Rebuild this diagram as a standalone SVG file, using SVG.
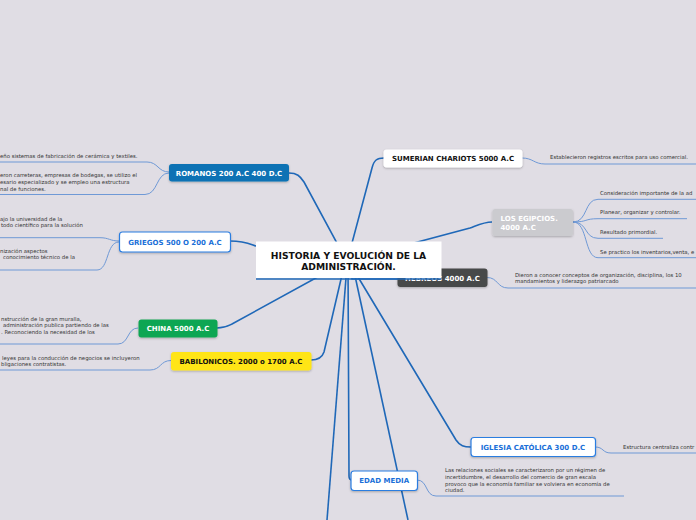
<svg xmlns="http://www.w3.org/2000/svg" width="696" height="520" viewBox="0 0 696 520">
<defs>
<style>
.main{fill:none;stroke:#1f68b8;stroke-width:1.6}
.sub{fill:none;stroke:#6f99d6;stroke-width:1}
.lbl{font-family:"DejaVu Sans",Verdana,sans-serif;font-weight:bold;font-size:7px;text-anchor:middle}
.sm{font-family:"DejaVu Sans",Verdana,sans-serif;font-size:5.35px;fill:#333333}
.wh{fill:#ffffff}
.bl{fill:#1a6fd8}
.bk{fill:#111111}
</style>
<filter id="sh" x="-10%" y="-20%" width="120%" height="150%">
<feDropShadow dx="0" dy="1" stdDeviation="0.8" flood-color="#000" flood-opacity="0.25"/>
</filter>
</defs>
<rect x="0" y="0" width="696" height="520" fill="#e0dde4"/>

<g id="connectors">
<path class="main" d="M289,173 C297,173 300,176 304,182 L345,258"/>
<path class="main" d="M384,158 C377,158 374,160 372,168 L348,258"/>
<path class="main" d="M230,241 C245,241 250,244 256,246 L345,258"/>
<path class="main" d="M492,222 C484,222 478,225 470,228 L350,260"/>
<path class="main" d="M217,328 C225,328 228,326 232,324 L345,262"/>
<path class="main" d="M311,360 C318,360 322,358 324,352 L345,262"/>
<path class="main" d="M348,262 L349,476 C349,479 350,480 352,480"/>
<path class="main" d="M347,265 L327,520"/>
<path class="main" d="M352,262 L408,520"/>
<path class="main" d="M349,262 L456,440 C460,446 464,447 471,447"/>
<path class="main" d="M350,262 L352,279 L398,279"/>

<path class="sub" d="M169,172 C158,172 158,162 147,162 H0"/>
<path class="sub" d="M169,173 C156,173 158,194.5 145,194.5 H0"/>
<path class="sub" d="M119,241 C110,241 109,237.7 100,237.7 H0"/>
<path class="sub" d="M119,242 C106,242 109,270 97,270 H0"/>
<path class="sub" d="M138,328 C127,328 129,344 118,344 H0"/>
<path class="sub" d="M171,360.5 C160,360.5 161,370 150,370 H0"/>
<path class="sub" d="M522,158 C533,158 534,164 545,164 H696"/>
<path class="sub" d="M573,222 C588,222 584,199.3 598,199.3 H696"/>
<path class="sub" d="M573,222 C588,222 584,218.7 598,218.7 H687"/>
<path class="sub" d="M573,222 C588,222 584,238.3 598,238.3 H663"/>
<path class="sub" d="M573,222 C588,222 584,257.7 598,257.7 H696"/>
<path class="sub" d="M487,277.5 C498,277.5 497,288 508,288 H696"/>
<path class="sub" d="M595,447 C604,447 602,453 611,453 H696"/>
<path class="sub" d="M417,480 C428,480 425,496 436,496 H624"/>
</g>

<g id="romanos">
<rect x="169" y="164" width="120" height="17.5" rx="3" fill="#0872b4" filter="url(#sh)"/>
<text class="lbl wh" x="229" y="175.5">ROMANOS 200 A.C 400 D.C</text>
<text class="sm" x="0" y="157.5">eño sistemas de fabricación de cerámica y textiles.</text>
<text class="sm" x="0" y="177">eron carreteras, empresas de bodegas, se utilizo el</text>
<text class="sm" x="0" y="184">esario especializado y se empleo una estructura</text>
<text class="sm" x="0" y="190.7">nal de funciones.</text>
</g>

<g id="griegos">
<rect x="119.5" y="232" width="111" height="20" rx="3" fill="#ffffff" stroke="#2b7de0" stroke-width="1.2" filter="url(#sh)"/>
<text class="lbl bl" x="175" y="244.5">GRIEGOS 500 O 200 A.C</text>
<text class="sm" x="0" y="220.5">ajo la universidad de la</text>
<text class="sm" x="1" y="227">todo científico para la solución</text>
<text class="sm" x="0" y="252.5">nización aspectos</text>
<text class="sm" x="3" y="259">conocimiento técnico de la</text>
</g>

<g id="china">
<rect x="138.5" y="319.5" width="79" height="18" rx="3" fill="#10a653" filter="url(#sh)"/>
<text class="lbl wh" x="178" y="331">CHINA 5000 A.C</text>
<text class="sm" x="1" y="320.5">nstrucción de la gran muralla,</text>
<text class="sm" x="3" y="326.8">administración publica partiendo de las</text>
<text class="sm" x="1" y="333.5">. Reconociendo la necesidad de los</text>
</g>

<g id="babilonicos">
<rect x="171" y="352" width="140.5" height="18.5" rx="3" fill="#ffe515" filter="url(#sh)"/>
<text class="lbl bk" x="241" y="364">BABILONICOS. 2000 o 1700 A.C</text>
<text class="sm" x="2" y="360">leyes para la conducción de negocios se incluyeron</text>
<text class="sm" x="1" y="366">bligaciones contratistas.</text>
</g>

<g id="sumerian">
<rect x="383.5" y="149.5" width="139" height="18" rx="3" fill="#ffffff" filter="url(#sh)"/>
<text class="lbl bk" x="453" y="160.7">SUMERIAN CHARIOTS 5000 A.C</text>
<text class="sm" x="550" y="159.3">Establecieron registros escritos para uso comercial.</text>
</g>

<g id="egipcios">
<rect x="492.5" y="209" width="80.5" height="27" rx="3" fill="#cbcbcf" filter="url(#sh)"/>
<text class="lbl wh" x="500.5" y="221" style="text-anchor:start">LOS EGIPCIOS.</text>
<text class="lbl wh" x="500.5" y="229.5" style="text-anchor:start">4000 A.C</text>
<text class="sm" x="600" y="195">Consideración importante de la ad</text>
<text class="sm" x="600" y="214">Planear, organizar y controlar.</text>
<text class="sm" x="600" y="234">Resultado primordial.</text>
<text class="sm" x="600" y="253.5">Se practico los inventarios,venta, e</text>
</g>

<g id="hebreos">
<rect x="397.5" y="268.5" width="90" height="18.5" rx="3" fill="#474849" filter="url(#sh)"/>
<text class="lbl wh" x="442.5" y="280.7">HEBREOS 4000 A.C</text>
<text class="sm" x="515" y="276.5">Dieron a conocer conceptos de organización, disciplina, los 10</text>
<text class="sm" x="515" y="282.5">mandamientos y liderazgo patriarcado</text>
</g>

<g id="central">
<rect x="256" y="241.5" width="185.5" height="36.5" fill="#ffffff"/>
<line x1="256" y1="279" x2="441.5" y2="279" stroke="#1f68b8" stroke-width="1.6"/>
<text class="lbl bk" style="font-size:9.2px" x="348.5" y="258.7">HISTORIA Y EVOLUCIÓN DE LA</text>
<text class="lbl bk" style="font-size:9.2px" x="348.5" y="269.5">ADMINISTRACIÓN.</text>
</g>

<g id="iglesia">
<rect x="471" y="437.5" width="124.5" height="19" rx="3" fill="#ffffff" stroke="#2b7de0" stroke-width="1.2" filter="url(#sh)"/>
<text class="lbl bl" x="533" y="450">IGLESIA CATÓLICA 300 D.C</text>
<text class="sm" x="623" y="448.7">Estructura centraliza contr</text>
</g>

<g id="edadmedia">
<rect x="351" y="471" width="66.5" height="19.5" rx="3" fill="#ffffff" stroke="#2b7de0" stroke-width="1.2" filter="url(#sh)"/>
<text class="lbl bl" x="384.2" y="482.7">EDAD MEDIA</text>
<text class="sm" x="445" y="472.3">Las relaciones sociales se caracterizaron por un régimen de</text>
<text class="sm" x="445" y="479">incertidumbre, el desarrollo del comercio de gran escala</text>
<text class="sm" x="445" y="485.7">provoco que la economía familiar se volviera en economía de</text>
<text class="sm" x="445" y="492">ciudad.</text>
</g>
</svg>
